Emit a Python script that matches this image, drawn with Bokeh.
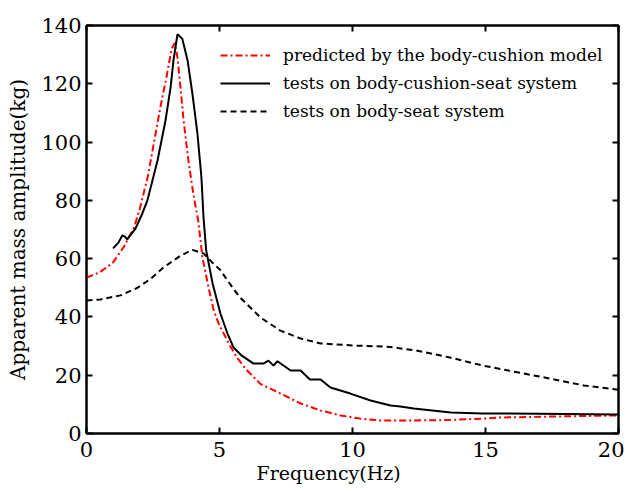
from bokeh.plotting import figure
from bokeh.models import Legend, LegendItem, LinearAxis, FixedTicker, Range1d, CustomJSTickFormatter, Title
from bokeh.embed import file_html
from bokeh.resources import INLINE

# --- data ---
freq_pred = [0, 0.5, 1.0, 1.4, 1.8, 2.0, 2.3, 2.55, 2.8, 3.0, 3.2, 3.32, 3.42, 3.53, 3.65, 3.83,
             4.02, 4.2, 4.36, 4.59, 4.79, 5.0, 5.16, 5.4, 5.66, 6.0, 6.54, 7.3, 8.05, 8.8, 9.55,
             10.3, 11.05, 12.4, 13.5, 14.9, 15.6, 17.4, 20]
mass_pred = [53.5, 55.3, 58.7, 64, 71, 77, 88, 100.5, 113, 122, 132, 134, 129, 119, 107.4, 93.7,
             82, 73, 60.4, 50, 42, 37, 34.3, 30, 26, 22, 17, 13.7, 10.3, 7.9, 6.2,
             5.1, 4.5, 4.5, 4.6, 5.1, 5.5, 5.8, 6.2]

freq_cs = [1.0, 1.2, 1.35, 1.45, 1.53, 1.84, 2.1, 2.29, 2.67, 2.97, 3.16, 3.27, 3.42, 3.6, 3.8,
           3.98, 4.17, 4.32, 4.4, 4.5, 4.74, 5.04, 5.3, 5.53, 5.8, 6.28, 6.65, 6.84, 7.03, 7.18,
           7.67, 8.05, 8.4, 8.8, 9.17, 9.92, 10.68, 11.43, 11.8, 12.3, 13.7, 14.9, 17, 20]
mass_cs = [63.5, 65.5, 68, 67.5, 66.6, 70.3, 75.5, 80, 93.7, 107.4, 118.7, 128, 137, 135.5, 128,
           116.7, 103, 88, 74, 62.8, 51.5, 41, 34.3, 29.5, 27, 24, 24, 25, 23.3, 24.8,
           21.6, 21.6, 18.5, 18.5, 15.8, 13.7, 11.3, 9.6, 9.3, 8.6, 7.2, 6.9, 6.8, 6.5]

freq_bs = [0, 0.53, 1.28, 1.92, 2.4, 2.9, 3.53, 3.98, 4.4, 4.77, 5.04, 5.3, 5.66, 5.79, 6.54,
           7.29, 8.05, 8.8, 10, 11.3, 12.4, 13.7, 14.9, 16.2, 17.4, 18.7, 20]
mass_bs = [45.6, 46, 47.4, 50, 53, 57, 61, 63, 61.8, 58.3, 56, 52.5, 48, 46.5, 39.8,
           35.3, 32.6, 30.9, 30.2, 29.8, 28.5, 26, 23.3, 21, 18.9, 16.5, 15]

x_ticks = [0, 5, 10, 15, 20]
y_ticks = [0, 20, 40, 60, 80, 100, 120, 140]

labels = ["predicted by the body-cushion model",
          "tests on body-cushion-seat system",
          "tests on body-seat system"]
x_title = "Frequency(Hz)"
y_title = "Apparent mass amplitude(kg)"

FONT = "DejaVu Serif"

p = figure(width=624, height=488, output_backend="svg", toolbar_location=None,
           x_range=Range1d(0, 20), y_range=Range1d(0, 140),
           min_border_left=86, min_border_right=6, min_border_top=25, min_border_bottom=55)
p.xgrid.visible = False
p.ygrid.visible = False
p.outline_line_color = "black"
p.outline_line_width = 2
p.background_fill_color = "white"
p.border_fill_color = "white"

r_pred = p.line(freq_pred, mass_pred, line_color="red", line_width=2, line_dash="7 3 2 3")
r_cs = p.line(freq_cs, mass_cs, line_color="black", line_width=2)
r_bs = p.line(freq_bs, mass_bs, line_color="black", line_width=2, line_dash="6 4")

for ax, ticks in ((p.xaxis[0], x_ticks), (p.yaxis[0], y_ticks)):
    ax.ticker = FixedTicker(ticks=ticks)
    ax.major_tick_in = 6
    ax.major_tick_out = 0
    ax.minor_tick_in = 0
    ax.minor_tick_out = 0
    ax.axis_line_width = 2
    ax.major_tick_line_width = 2
    ax.major_label_text_font = FONT
    ax.major_label_text_font_size = "21px"
    ax.major_label_text_color = "black"
    ax.axis_label_text_font = FONT
    ax.axis_label_text_font_size = "20px"
    ax.axis_label_text_font_style = "normal"
    ax.axis_label_text_color = "black"

p.yaxis.axis_label = y_title
p.xaxis.major_label_standoff = 8
p.yaxis.major_label_standoff = 5
p.yaxis.axis_label_standoff = 8

# x-axis title below the axis, a little left of centre as in the reference
p.add_layout(Title(text=x_title, align="left", offset=170, standoff=0,
                   text_font=FONT, text_font_size="19px", text_font_style="normal",
                   text_color="black"), "below")

# mirrored ticks on top and right (no labels)
top = LinearAxis(ticker=FixedTicker(ticks=x_ticks), formatter=CustomJSTickFormatter(code="return ''"))
right = LinearAxis(ticker=FixedTicker(ticks=y_ticks), formatter=CustomJSTickFormatter(code="return ''"))
for ax in (top, right):
    ax.major_tick_in = 6
    ax.major_tick_out = 0
    ax.minor_tick_in = 0
    ax.minor_tick_out = 0
    ax.axis_line_width = 2
    ax.major_tick_line_width = 2
    ax.major_label_text_font_size = "1px"
    ax.major_label_standoff = 0
p.add_layout(top, "above")
p.add_layout(right, "right")

legend = Legend(items=[LegendItem(label=labels[0], renderers=[r_pred]),
                       LegendItem(label=labels[1], renderers=[r_cs]),
                       LegendItem(label=labels[2], renderers=[r_bs])],
                location=(134, 310))
legend.border_line_alpha = 0
legend.background_fill_alpha = 0
legend.padding = 0
legend.margin = 0
legend.spacing = 4
legend.glyph_width = 50
legend.glyph_height = 24
legend.label_height = 24
legend.label_standoff = 13
legend.label_text_font = FONT
legend.label_text_font_size = "17px"
legend.label_text_color = "black"
p.add_layout(legend, "center")

open("out.html", "w").write(file_html(p, INLINE))
